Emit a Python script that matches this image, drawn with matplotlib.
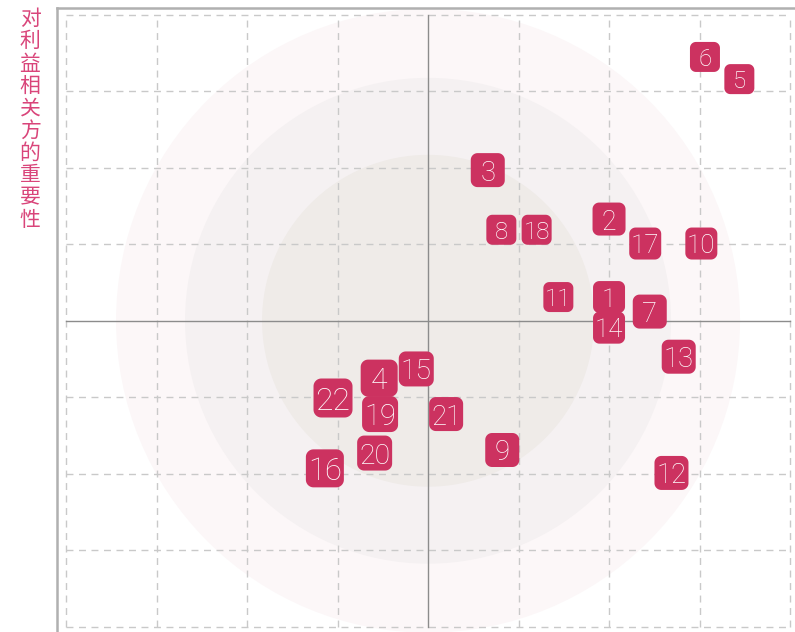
import matplotlib.pyplot as plt
import numpy as np
from matplotlib.path import Path
from matplotlib.patches import Ellipse

# 重要性矩阵 - 议题编号, 对公司影响(x), 对利益相关方的重要性(y), 气泡大小
labels = [1, 2, 3, 4, 5, 6, 7, 8, 9, 10, 11,
          12, 13, 14, 15, 16, 17, 18, 19, 20, 21, 22]
x_val = [2.00, 2.00, 0.66, -0.54, 3.44, 3.06, 2.45, 0.81, 0.82, 3.02, 1.44,
         2.69, 2.77, 2.00, -0.13, -1.14, 2.40, 1.20, -0.53, -0.59, 0.20, -1.05]
y_val = [0.31, 1.33, 1.97, -0.75, 3.16, 3.45, 0.12, 1.19, -1.69, 1.01, 0.31,
         -1.99, -0.47, -0.09, -0.63, -1.93, 1.01, 1.19, -1.22, -1.73, -1.22, -1.01]
bubble = [30, 31, 32, 35, 28, 28, 32, 28, 32, 30, 28,
          32, 32, 30, 33, 36, 30, 28, 34, 33, 32, 37]

ylabel = '对利益相关方的重要性'


def rounded_square(r=0.4, n=14):
    # 圆角方形 marker
    verts = []
    centers = [(1 - r, 1 - r), (-1 + r, 1 - r), (-1 + r, -1 + r), (1 - r, -1 + r)]
    for k, (cx, cy) in enumerate(centers):
        t = np.linspace(k * np.pi / 2, (k + 1) * np.pi / 2, n)
        for a in t:
            verts.append((cx + r * np.cos(a), cy + r * np.sin(a)))
    verts.append(verts[0])
    codes = [Path.MOVETO] + [Path.LINETO] * (len(verts) - 2) + [Path.CLOSEPOLY]
    return Path(verts, codes)


fig = plt.figure(figsize=(7.95, 6.32), dpi=100)
ax = fig.add_axes([57 / 795, 0, 738 / 795, 624 / 632])
ax.set_xlim(-4.1, 4.055)
ax.set_ylim(-4.07, 4.09)

# 背景同心圆 (像素上为圆形)
px_x, px_y = 90.5, 76.5
for r, c in [(312, '#fcf7f8'), (243, '#f5f1f2'), (166, '#efebe8')]:
    ax.add_patch(Ellipse((0, 0), 2 * r / px_x, 2 * r / px_y, facecolor=c,
                         edgecolor='none', zorder=0))

grid = np.arange(-4, 5)
for g in grid:
    if g == 0:
        continue
    ax.plot([g, g], [-4, 4], color='#c9c9c9', lw=1, ls=(0, (5, 4)), zorder=1)
    ax.plot([-4, 4], [g, g], color='#c9c9c9', lw=1, ls=(0, (5, 4)), zorder=1)
ax.plot([0, 0], [-4, 4], color='#8c8c8c', lw=1, zorder=1)
ax.plot([-4, 4], [0, 0], color='#8c8c8c', lw=1, zorder=1)

marker = rounded_square()
for lab, x, y, b in zip(labels, x_val, y_val, bubble):
    side = (b + 2) * 72 / 100
    ax.scatter([x], [y], s=side ** 2, marker=marker, color='#cc3260',
               edgecolors='none', zorder=3)
    ax.text(x, y, str(lab), ha='center', va='center_baseline', color='white',
            fontsize=b * 0.62, family='Roboto', fontweight='light', zorder=4)

for s in ['right', 'bottom']:
    ax.spines[s].set_visible(False)
for s in ['left', 'top']:
    ax.spines[s].set_color('#b0b0b0')
    ax.spines[s].set_linewidth(1.8)
ax.set_xticks([])
ax.set_yticks([])

fig.text(30 / 795, 1 - 8 / 632, '\n'.join(ylabel), ha='center', va='top',
         color='#d9457a', fontsize=15, linespacing=1.02,
         family=['Noto Sans CJK SC', 'DejaVu Sans'], fontweight='light')

fig.savefig('out.png', dpi=100, facecolor='white')
